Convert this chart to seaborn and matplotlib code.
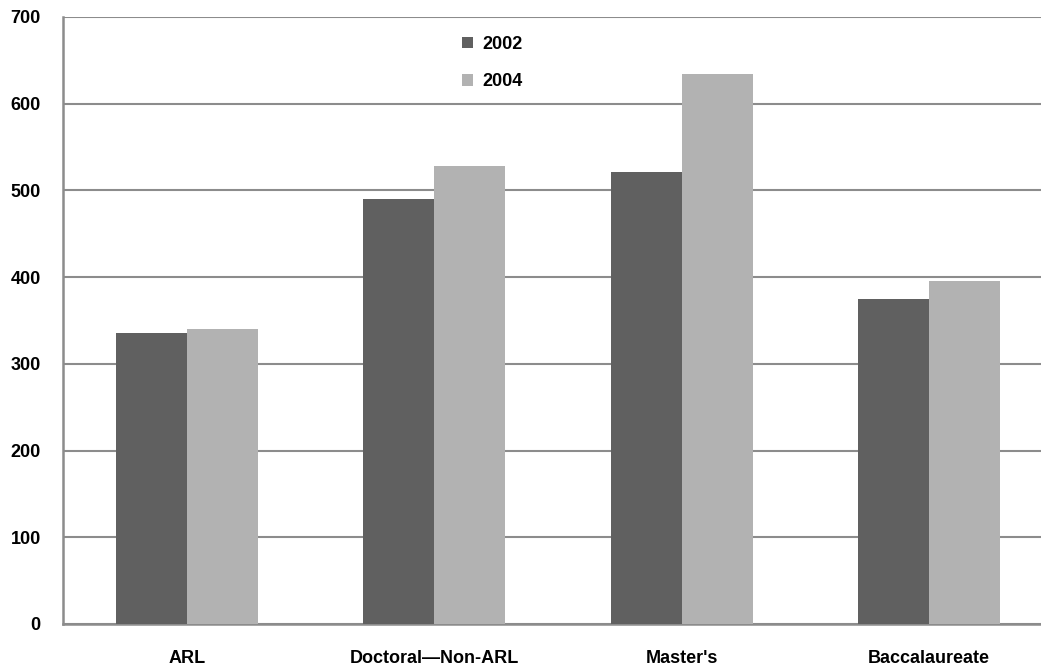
import pandas as pd
import matplotlib.pyplot as plt
import seaborn as sns

# Chart values
categories = ["ARL", "Doctoral\u2014Non-ARL", "Master's", "Baccalaureate"]
values_2002 = [335, 490, 521, 375]
values_2004 = [340, 528, 634, 395]
years = ["2002", "2004"]
y_ticks = [0, 100, 200, 300, 400, 500, 600, 700]

df = pd.DataFrame({
    "Category": categories * 2,
    "Year": [years[0]] * len(categories) + [years[1]] * len(categories),
    "Value": values_2002 + values_2004,
})

sns.set_style("white")
plt.rcParams['font.family'] = ['Liberation Sans', 'DejaVu Sans']
plt.rcParams['font.weight'] = 'bold'
plt.rcParams['text.color'] = 'black'
plt.rcParams['xtick.labelcolor'] = 'black'
plt.rcParams['ytick.labelcolor'] = 'black'

fig = plt.figure(figsize=(10.41, 6.69), dpi=100)
ax = fig.add_axes([0.0605, 0.0673, 0.951, 0.9073])

sns.barplot(data=df, x="Category", y="Value", hue="Year", order=categories,
            hue_order=years, palette=["#606060", "#b2b2b2"], width=0.574,
            saturation=1, gap=0, linewidth=0, ax=ax, zorder=3)

ax.set_xlim(-0.5, 3.5)
ax.set_ylim(0, 700)
ax.set_yticks(y_ticks)
ax.set_yticklabels([str(v) for v in y_ticks], fontsize=13, fontweight='bold', color='black')
ax.set_xticks(range(len(categories)))
ax.set_xticklabels(categories, fontsize=13, fontweight='bold', color='black')
ax.set_xticks([-0.5, 0.5, 1.5, 2.5, 3.5], minor=True)
ax.tick_params(axis='x', which='major', length=0, pad=19)
ax.tick_params(axis='x', which='minor', length=6, width=1.5, color="#8c8c8c", direction='out')
ax.tick_params(axis='y', length=6, width=1.5, color="#8c8c8c", direction='out', pad=10)
ax.set_xlabel("")
ax.set_ylabel("")

ax.yaxis.grid(True, color="#8c8c8c", linewidth=1.5, zorder=0)
ax.set_axisbelow(True)
for side in ["top", "right"]:
    ax.spines[side].set_visible(False)
for side in ["left", "bottom"]:
    ax.spines[side].set_color("#8c8c8c")
    ax.spines[side].set_linewidth(1.8)

leg = ax.legend(loc="upper left", bbox_to_anchor=(0.387, 0.996), frameon=False,
                fontsize=13, handlelength=0.6, handleheight=0.6, handletextpad=0.5,
                labelspacing=1.15)
for t in leg.get_texts():
    t.set_fontweight('bold')
    t.set_color('black')

plt.savefig("out.png", dpi=100)
plt.close()
